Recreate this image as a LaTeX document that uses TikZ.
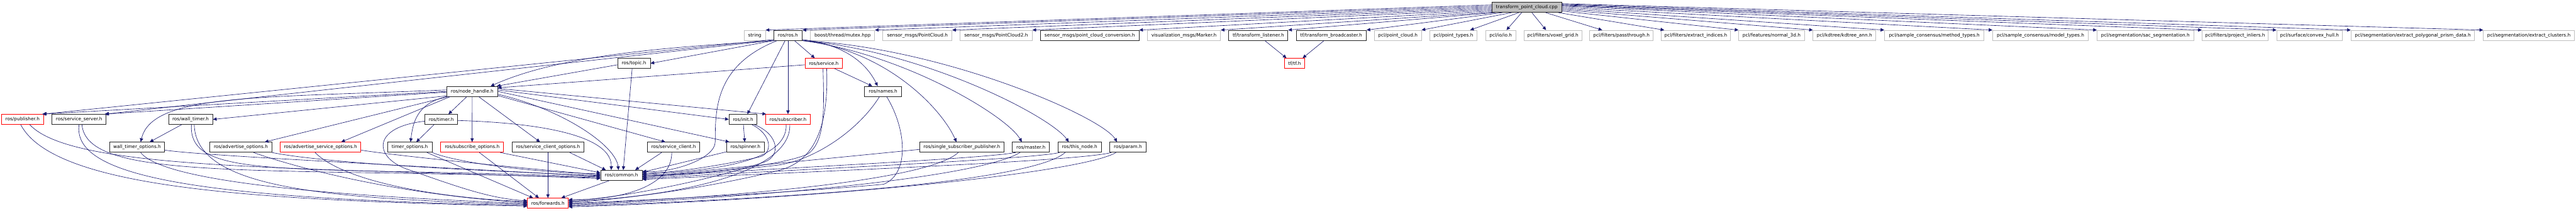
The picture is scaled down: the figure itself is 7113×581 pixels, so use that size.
\documentclass[tikz,border=0pt]{standalone}
\usepackage{fontspec}
\newfontfamily\dvs{DejaVu Sans}
\usetikzlibrary{arrows.meta,calc}
\definecolor{edgeblue}{HTML}{191970}
\definecolor{greyseventyfive}{HTML}{BFBFBF}
\newcommand\mknode[6]{\node[#2,minimum width=#5*0.5pt] (#1) at (#3,#4) {#6};}
\tikzset{
  box/.style={rectangle, inner sep=0pt, minimum height=13.85pt, fill=white,
    font=\dvs\fontsize{6.4}{7.7}\selectfont, line width=0.75pt, text=black},
  nb/.style={box, draw=black!85},
  nr/.style={box, draw=red},
  ng/.style={box, draw=greyseventyfive},
  ncpp/.style={box, draw=black!85, fill=greyseventyfive},
  edg/.style={draw=edgeblue, line width=0.55pt, -{Triangle[length=5pt,width=4.6pt]}},
}
\begin{document}
\begin{tikzpicture}[x=0.5pt,y=-0.5pt]
\fill[white] (0,0) rectangle (7113,581);
\useasboundingbox (0,0) rectangle (7113,581);
% ---------------- nodes ----------------
\mknode{cpp}{ncpp}{4215.8}{20.2}{192.4}{transform\_point\_cloud.cpp}
% row 1
\mknode{string}{ng}{2084}{97.5}{59}{string}
\mknode{rosh}{nb}{2175.8}{97.5}{78.8}{ros/ros.h}
\mknode{mutex}{ng}{2326.5}{97.5}{177.5}{boost/thread/mutex.hpp}
\mknode{pc}{ng}{2533.2}{97.5}{190.6}{sensor\_msgs/PointCloud.h}
\mknode{pctwo}{ng}{2750.5}{97.5}{199}{sensor\_msgs/PointCloud2.h}
\mknode{pcconv}{nb}{3009}{97.5}{272}{sensor\_msgs/point\_cloud\_conversion.h}
\mknode{marker}{ng}{3269.2}{97.5}{201.7}{visualization\_msgs/Marker.h}
\mknode{tfl}{nb}{3474.6}{97.5}{163.4}{tf/transform\_listener.h}
\mknode{tfb}{nb}{3675.9}{97.5}{193.8}{tf/transform\_broadcaster.h}
\mknode{pclpc}{ng}{3859.8}{97.5}{129.6}{pcl/point\_cloud.h}
\mknode{pclpt}{ng}{4013.2}{97.5}{130.8}{pcl/point\_types.h}
\mknode{pclio}{ng}{4143.8}{97.5}{83.1}{pcl/io/io.h}
\mknode{voxel}{ng}{4288}{97.5}{158.9}{pcl/filters/voxel\_grid.h}
\mknode{pass}{ng}{4477.2}{97.5}{175}{pcl/filters/passthrough.h}
\mknode{extr}{ng}{4682.5}{97.5}{191}{pcl/filters/extract\_indices.h}
\mknode{normal}{ng}{4891.8}{97.5}{181.7}{pcl/features/normal\_3d.h}
\mknode{kdtree}{ng}{5093.1}{97.5}{173.6}{pcl/kdtree/kdtree\_ann.h}
\mknode{method}{ng}{5341.1}{97.5}{275}{pcl/sample\_consensus/method\_types.h}
\mknode{model}{ng}{5634.4}{97.5}{264.3}{pcl/sample\_consensus/model\_types.h}
\mknode{sac}{ng}{5923.9}{97.5}{266.5}{pcl/segmentation/sac\_segmentation.h}
\mknode{proj}{ng}{6171.7}{97.5}{182.6}{pcl/filters/project\_inliers.h}
\mknode{convex}{ng}{6377.3}{97.5}{181.3}{pcl/surface/convex\_hull.h}
\mknode{prism}{ng}{6662.3}{97.5}{341.5}{pcl/segmentation/extract\_polygonal\_prism\_data.h}
\mknode{clusters}{ng}{6982.8}{97.5}{251}{pcl/segmentation/extract\_clusters.h}
% row 2
\mknode{topic}{nb}{1750.5}{174.7}{90}{ros/topic.h}
\mknode{service}{nr}{2274.6}{174.7}{103.3}{ros/service.h}
\mknode{tftf}{nr}{3574.6}{174.7}{55.3}{tf/tf.h}
% row 3
\mknode{nh}{nb}{1303.9}{252}{140.4}{ros/node\_handle.h}
\mknode{names}{nb}{2438.4}{252}{103.3}{ros/names.h}
% row 4
\mknode{publisher}{nr}{62.2}{329.2}{115.2}{ros/publisher.h}
\mknode{sserver}{nb}{218.3}{329.2}{149.6}{ros/service\_server.h}
\mknode{walltimer}{nb}{526.4}{329.2}{122}{ros/wall\_timer.h}
\mknode{timer}{nb}{1218.4}{329.2}{91}{ros/timer.h}
\mknode{init}{nb}{2051.7}{329.2}{77.7}{ros/init.h}
\mknode{subscriber}{nr}{2175.8}{329.2}{123.2}{ros/subscriber.h}
% row 5
\mknode{wto}{nb}{378.5}{406}{152.3}{wall\_timer\_options.h}
\mknode{advopt}{nb}{665.1}{406}{170.6}{ros/advertise\_options.h}
\mknode{advsrv}{nr}{885}{406}{223.1}{ros/advertise\_service\_options.h}
\mknode{timeropt}{nb}{1131.6}{406}{123.2}{timer\_options.h}
\mknode{subopt}{nr}{1303.7}{406}{173.8}{ros/subscribe\_options.h}
\mknode{scopt}{nb}{1513}{406}{199.1}{ros/service\_client\_options.h}
\mknode{sclient}{nb}{1859.9}{406}{144.2}{ros/service\_client.h}
\mknode{spinner}{nb}{2058.4}{406}{104.1}{ros/spinner.h}
\mknode{ssp}{nb}{2655.9}{406}{232.3}{ros/single\_subscriber\_publisher.h}
\mknode{master}{nb}{2846.5}{406}{102.9}{ros/master.h}
\mknode{thisnode}{nb}{2981.1}{406}{119.8}{ros/this\_node.h}
\mknode{param}{nb}{3114.5}{406}{100.4}{ros/param.h}
% row 6, 7
\mknode{common}{nb}{1715.9}{483.3}{114.8}{ros/common.h}
\mknode{fwd}{nr}{1513}{560.4}{112.5}{ros/forwards.h}
% ---------------- edges: cpp ----------------
\draw[edg] (cpp.176) -- (string.north east);
\draw[edg] (cpp.178) -- (rosh.north east);
\draw[edg] (cpp.180) -- (mutex.north east);
\draw[edg] (cpp.182) -- (pc.north east);
\draw[edg] (cpp.184) -- (pctwo.north east);
\draw[edg] (cpp.186) -- (pcconv.north east);
\draw[edg] (cpp.188) -- (marker.north east);
\draw[edg] ($(cpp.south west)+(10,0)$) -- (tfl.north east);
\draw[edg] ($(cpp.south west)+(30,0)$) -- (tfb.north east);
\draw[edg] ($(cpp.south west)+(55,0)$) -- (pclpc.north east);
\draw[edg] ($(cpp.south west)+(75,0)$) -- ($(pclpt.north east)+(-20,0)$);
\draw[edg] ($(cpp.south)+(-14,0)$) -- ($(pclio.north)+(16,0)$);
\draw[edg] ($(cpp.south)+(14,0)$) -- ($(voxel.north)+(-19,0)$);
\draw[edg] ($(cpp.south east)+(-45,0)$) -- ($(pass.north west)+(35,0)$);
\draw[edg] ($(cpp.south east)+(-10,0)$) -- ($(extr.north west)+(9,0)$);
\draw[edg] (cpp.-6) -- (normal.north west);
\draw[edg] (cpp.-4) -- (kdtree.north west);
\draw[edg] (cpp.-2) -- (method.north west);
\draw[edg] (cpp.0) -- (model.north west);
\draw[edg] (cpp.2) -- (sac.north west);
\draw[edg] (cpp.3) -- (proj.north west);
\draw[edg] (cpp.4) -- (convex.north west);
\draw[edg] (cpp.5) -- (prism.north west);
\draw[edg] (cpp.6) -- (clusters.north west);
% tf
\draw[edg] ($(tfl.south)+(18,0)$) -- ($(tftf.north west)+(6,0)$);
\draw[edg] ($(tfb.south)+(-20,0)$) -- ($(tftf.north east)+(-6,0)$);
% ---------------- edges: ros/ros.h ----------------
\draw[edg] ($(rosh.south west)+(0,-3)$) -- ($(publisher.north east)+(-2,0)$);
\draw[edg] ($(rosh.south west)+(0,-1)$) -- ($(sserver.north east)+(-3,0)$);
\draw[edg] (rosh.south west) -- (topic.east);
\draw[edg] ($(rosh.south west)+(4,0)$) .. controls (1850,130) and (1550,150) .. ($(nh.north east)+(-20,0)$);
\draw[edg] ($(rosh.south)+(18,0)$) -- ($(service.north)+(-25,0)$);
\draw[edg] (rosh.south) -- (subscriber.north);
\draw[edg] ($(rosh.south)+(-8,0)$) -- ($(init.north)+(12,0)$);
\draw[edg] ($(rosh.south east)+(0,-3)$) .. controls (2350,125) and (2400,190) .. ($(names.north)+(-15,0)$);
\draw[edg] ($(rosh.south east)+(0,-1)$) .. controls (2450,140) and (2600,300) .. ($(ssp.north)+(-15,0)$);
\draw[edg] (rosh.south east) .. controls (2500,150) and (2780,320) .. ($(master.north)+(-25,0)$);
\draw[edg] (rosh.south east) .. controls (2550,140) and (2900,320) .. ($(thisnode.north)+(-30,0)$);
\draw[edg] (rosh.south east) .. controls (2600,130) and (3040,320) .. ($(param.north)+(-30,0)$);
\draw[edg] ($(rosh.south west)+(10,0)$) .. controls (1975,180) and (1975,300) .. (1975,390) .. controls (1975,440) and (1850,478) .. ($(common.east)+(0,-11)$);
% ---------------- edges: node_handle ----------------
\draw[edg] (nh.west) -- ($(publisher.north east)+(-4,0)$);
\draw[edg] ($(nh.west)+(0,2)$) -- ($(sserver.north east)+(-5,0)$);
\draw[edg] (nh.190) -- (walltimer.east);
\draw[edg] ($(nh.west)+(0,-4)$) .. controls (700,270) and (420,260) .. ($(wto.north)+(10,0)$);
\draw[edg] ($(nh.south west)+(5,0)$) -- ($(advopt.north east)+(-20,0)$);
\draw[edg] ($(nh.south west)+(10,0)$) -- ($(advsrv.north east)+(-55,0)$);
\draw[edg] (nh.south west) .. controls (1150,285) and (1140,340) .. ($(timeropt.north)+(2,0)$);
\draw[edg] ($(nh.south)+(-15,0)$) -- ($(timer.north)+(20,0)$);
\draw[edg] (nh.south) -- (subopt.north);
\draw[edg] ($(nh.south)+(18,0)$) -- ($(scopt.north)+(-22,0)$);
\draw[edg] ($(nh.south east)+(0,-3)$) -- ($(sclient.north west)+(50,0)$);
\draw[edg] (nh.east) -- ($(spinner.north west)+(8,0)$);
\draw[edg] ($(nh.east)+(0,-4)$) -- (init.west);
\draw[edg] ($(nh.east)+(0,-8)$) -- ($(subscriber.north west)+(2,0)$);
\draw[edg] ($(nh.east)+(0,8)$) .. controls (1550,300) and (1700,400) .. ($(common.north)+(-8,0)$);
% ---------------- edges: topic, service ----------------
\draw[edg] ($(topic.west)+(0,4)$) -- ($(nh.north east)+(-3,0)$);
\draw[edg] ($(topic.south)+(-5,0)$) -- ($(common.north)+(5,0)$);
\draw[edg] ($(service.west)+(0,4)$) -- (nh.8);
\draw[edg] ($(service.south)+(30,0)$) -- ($(names.north)+(-30,0)$);
\draw[edg] ($(service.south)+(-2,0)$) .. controls (2275,300) and (2280,390) .. (2230,425) .. controls (2150,460) and (1900,482) .. ($(common.east)+(0,-1)$);
\draw[edg] ($(service.south)+(8,0)$) .. controls (2290,380) and (2230,450) .. (2150,470) .. controls (1950,520) and (1700,552) .. ($(fwd.east)+(0,-2.5)$);
% ---------------- edges: subscriber, init, spinner ----------------
\draw[edg] ($(subscriber.south)+(-5,0)$) .. controls (2175,450) and (1950,472) .. ($(common.east)+(0,-3.5)$);
\draw[edg] ($(subscriber.south)+(5,0)$) .. controls (2185,470) and (1900,540) .. ($(fwd.east)+(0,-5)$);
\draw[edg] ($(init.south)+(1,0)$) -- ($(spinner.north)+(-2,0)$);
\draw[edg] ($(init.south east)+(-15,0)$) .. controls (2130,370) and (2135,420) .. (2100,432) .. controls (2000,455) and (1850,478) .. ($(common.east)+(0,-6)$);
\draw[edg] ($(init.south east)+(-8,0)$) .. controls (2150,370) and (2158,430) .. (2110,447) .. controls (1950,500) and (1700,548) .. ($(fwd.east)+(0,-7.5)$);
\draw[edg] ($(spinner.south west)+(0,-2)$) -- ($(common.east)+(0,-8.5)$);
% ---------------- edges: names, ssp, master, this_node, param ----------------
\draw[edg] ($(names.south)+(-10,0)$) .. controls (2370,360) and (2250,440) .. (2150,455) .. controls (2000,472) and (1850,485) .. ($(common.east)+(0,1.5)$);
\draw[edg] ($(names.south)+(10,0)$) .. controls (2505,360) and (2510,480) .. (2440,508) .. controls (2200,530) and (1800,552) .. (fwd.east);
\draw[edg] ($(ssp.west)+(0,6)$) -- ($(common.east)+(0,4)$);
\draw[edg] ($(ssp.south)+(-10,0)$) .. controls (2560,500) and (2000,545) .. ($(fwd.east)+(0,2.5)$);
\draw[edg] ($(master.south west)+(10,0)$) .. controls (2700,440) and (2000,470) .. ($(common.east)+(0,6.5)$);
\draw[edg] ($(master.south)+(-30,0)$) .. controls (2700,490) and (2100,545) .. ($(fwd.east)+(0,5)$);
\draw[edg] ($(thisnode.south west)+(5,0)$) .. controls (2850,440) and (2100,472) .. ($(common.east)+(0,9)$);
\draw[edg] ($(thisnode.south)+(-40,0)$) .. controls (2850,500) and (2200,548) .. ($(fwd.east)+(0,7.5)$);
\draw[edg] ($(param.south west)+(5,0)$) .. controls (2980,445) and (2200,475) .. ($(common.east)+(0,11.5)$);
\draw[edg] ($(param.south west)+(18,0)$) .. controls (2990,475) and (2300,548) .. ($(fwd.east)+(0,10)$);
% ---------------- edges: service_client ----------------
\draw[edg] ($(sclient.south west)+(40,0)$) -- ($(common.north east)+(-20,0)$);
\draw[edg] ($(sclient.south)+(-5,0)$) .. controls (1855,520) and (1700,552) .. ($(fwd.east)+(0,-10)$);
% ---------------- edges: left side ----------------
\draw[edg] ($(publisher.south)+(20,0)$) .. controls (200,470) and (800,460) .. ($(common.west)+(0,9)$);
\draw[edg] ($(publisher.south)+(-5,0)$) .. controls (150,520) and (700,552) .. ($(fwd.west)+(0,8)$);
\draw[edg] ($(sserver.south)+(8,0)$) .. controls (240,500) and (700,460) .. ($(common.west)+(0,7)$);
\draw[edg] (sserver.south) .. controls (200,480) and (500,548) .. ($(fwd.west)+(0,5.5)$);
\draw[edg] ($(walltimer.south)+(-25,0)$) -- ($(wto.north)+(35,0)$);
\draw[edg] ($(walltimer.south)+(2,0)$) .. controls (520,500) and (800,455) .. ($(common.west)+(0,5)$);
\draw[edg] ($(walltimer.south)+(10,0)$) .. controls (540,520) and (900,548) .. ($(fwd.west)+(0,3)$);
\draw[edg] ($(wto.east)+(0,8)$) .. controls (550,428) and (1000,450) .. ($(common.west)+(0,3)$);
\draw[edg] ($(wto.south)+(10,0)$) .. controls (450,500) and (900,540) .. ($(fwd.west)+(0,0.5)$);
\draw[edg] (advopt.south east) .. controls (900,450) and (1300,470) .. ($(common.west)+(0,1)$);
\draw[edg] ($(advopt.south)+(35,0)$) .. controls (900,490) and (1200,545) .. ($(fwd.west)+(0,-2)$);
\draw[edg] ($(advsrv.east)+(0,8)$) .. controls (1100,430) and (1400,460) .. ($(common.west)+(0,-1)$);
\draw[edg] ($(advsrv.south)+(-15,0)$) .. controls (950,500) and (1200,545) .. ($(fwd.west)+(0,-4.5)$);
\draw[edg] ($(timer.south)+(-20,0)$) -- ($(timeropt.north)+(18,0)$);
\draw[edg] ($(timer.east)+(0,3)$) .. controls (1520,340) and (1690,380) .. ($(common.north west)+(30,0)$);
\draw[edg] ($(timer.west)+(0,5)$) .. controls (1030,350) and (1030,430) .. (1120,465) .. controls (1250,510) and (1350,548) .. ($(fwd.west)+(0,-7)$);
\draw[edg] (timeropt.south east) .. controls (1250,445) and (1450,475) .. ($(common.west)+(0,-4)$);
\draw[edg] ($(timeropt.south east)+(-15,0)$) -- ($(fwd.north west)+(16,0)$);
\draw[edg] ($(subopt.south east)+(-10,0)$) -- ($(common.west)+(0,-7)$);
\draw[edg] ($(subopt.south)+(20,0)$) -- ($(fwd.north west)+(32,0)$);
\draw[edg] ($(scopt.south east)+(-40,0)$) -- ($(common.north west)+(15,0)$);
\draw[edg] (scopt.south) -- (fwd.north);
\draw[edg] ($(common.south west)+(25,0)$) -- ($(fwd.north east)+(-20,0)$);
\end{tikzpicture}
\end{document}
